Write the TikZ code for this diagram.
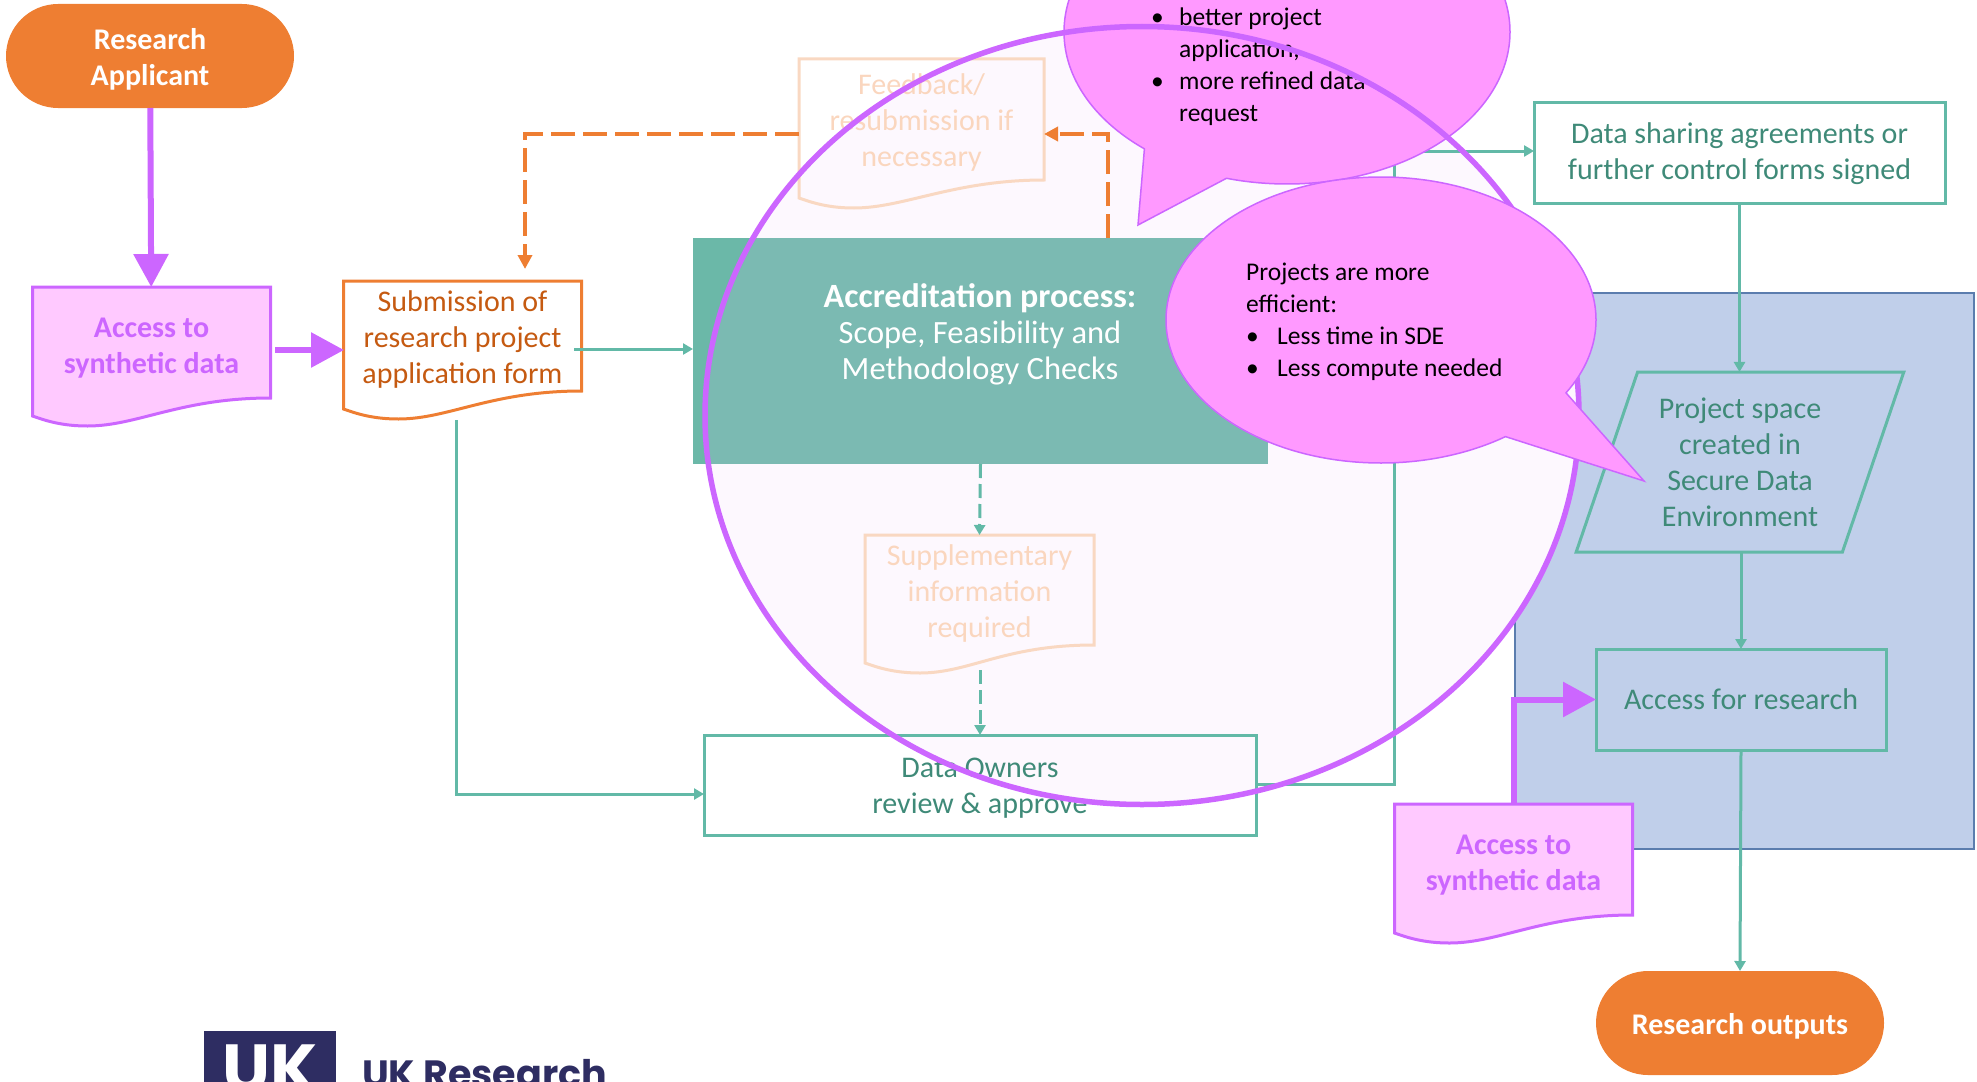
\documentclass[tikz,border=0pt]{standalone}
\usepackage{fontspec}
\setmainfont{Carlito}
\newfontfamily\logofont{Poppins}
\usetikzlibrary{arrows.meta,calc,shapes.geometric,shapes.misc,shapes.callouts}

\definecolor{tealline}{HTML}{62B9A7}
\definecolor{tealtext}{HTML}{3F8A78}
\definecolor{tealfill}{HTML}{7BBAB2}
\definecolor{tealcorner}{HTML}{6BB8A8}
\definecolor{orangefill}{HTML}{EE7E32}
\definecolor{orangetext}{HTML}{C55A11}
\definecolor{palefill}{HTML}{FDF8FE}
\definecolor{paleline}{HTML}{F9D8C2}
\definecolor{palefont}{HTML}{FAD6BE}
\definecolor{violet}{HTML}{CC66FF}
\definecolor{synthfill}{HTML}{FFC9FF}
\definecolor{bubble}{HTML}{FF99FF}
\definecolor{panelfill}{HTML}{C0CFEA}
\definecolor{panelline}{HTML}{5B7DAE}
\definecolor{logoblue}{HTML}{2E2D62}

% box with a wavy lower edge
\newcommand{\docnode}[5][3]{%
    \node[#2, draw = none, fill = none] (#3) at #4 {};
    \draw[#2] (#3.north west) -- (#3.north east) -- (#3.south east)
        .. controls ($(#3.south east) + (-90, 0)$) and ($(#3.south west) + (105, 28)$) .. ($(#3.south west) + (55, 28)$)
        .. controls ($(#3.south west) + (30, 28)$) and ($(#3.south west) + (14, 23)$) .. ($(#3.south west) + (0, 18)$) -- cycle;
    \node[#2, draw = none, fill = none] (#3text) at ($(#3) + (0, #1)$) {#5};
}
% box whose text sits a little low
\newcommand{\boxnode}[5][3]{%
    \node[#2] (#3) at #4 {};
    \node[#2, shape = rectangle, draw = none, fill = none, minimum width = 0pt, minimum height = 0pt] (#3text) at ($(#3) + (0, #1)$) {#5};
}
\newcommand{\bul}{\makebox[31pt][l]{\textbullet}}
\newcommand{\bulup}{\makebox[28pt][l]{\textbullet}}
\newcommand{\bulno}{\makebox[28pt][l]{}}

\begin{document}
\begin{tikzpicture}[%
    x = 1pt, y = -1pt,
    box/.style = {rectangle, draw = tealline, line width = 3pt, text = tealtext, align = center, inner sep = 0pt, outer sep = 0pt, font = \fontsize{30}{36}\selectfont},
    terminal/.style = {rounded rectangle, fill = orangefill, text = white, align = center, inner sep = 0pt, outer sep = 0pt, font = \fontsize{30}{36}\selectfont\bfseries},
    doc/.style = {rectangle, line width = 3pt, align = center, inner sep = 0pt, outer sep = 0pt, font = \fontsize{30}{36}\selectfont},
    synthdoc/.style = {doc, draw = violet, fill = synthfill, text = violet, minimum width = 238pt, minimum height = 111pt, font = \fontsize{30}{36}\selectfont\bfseries},
    submitdoc/.style = {doc, draw = orangefill, text = orangetext},
    palebox/.style = {doc, draw = paleline, text = palefont},
    talk/.style = {ellipse callout, draw = violet, fill = bubble, line width = 1.5pt, inner sep = 0pt, outer sep = 0pt},
    talktext/.style = {align = left, inner sep = 0pt, text = black, font = \fontsize{25.5}{32}\selectfont},
    flow/.style = {draw = tealline, line width = 3pt, -{Triangle[length = 10pt, width = 11pt]}},
    flowdash/.style = {flow, dash pattern = on 14pt off 6pt},
    back/.style = {draw = orangefill, line width = 3.5pt, dash pattern = on 24pt off 8pt, -{Triangle[length = 14pt, width = 14pt]}},
    bigflow/.style = {draw = violet, line width = 6pt, -{Triangle[length = 33pt, width = 34pt]}}]

    \useasboundingbox (0, 0) rectangle (1977, 1081);
    \clip (0, 0) rectangle (1977, 1081);

    \node[rectangle, draw = panelline, line width = 2pt, fill = panelfill, minimum width = 459pt, minimum height = 556pt] (panel) at (1744.5, 571) {};
    \node[ellipse, fill = palefill, inner sep = 0pt, minimum width = 874pt, minimum height = 778pt] (glow) at (1142, 415.5) {};

    \node[rectangle, fill = tealcorner, inner sep = 0pt, outer sep = 0pt, minimum width = 575pt, minimum height = 226pt] (accred) at (980.5, 351) {};
    \begin{scope}
        \clip (1142, 415.5) ellipse [x radius = 437, y radius = 389];
        \fill[tealfill] (accred.north west) rectangle (accred.south east);
    \end{scope}
    \node[align = center, text = white, inner sep = 0pt, font = \fontsize{32.5}{36}\selectfont] (accredtext) at (980, 334) {\fontsize{34}{36}\selectfont\textbf{Accreditation process:}\\Scope, Feasibility and\\Methodology Checks};

    \boxnode{terminal, minimum width = 288pt, minimum height = 104pt}{applicant}{(150, 56)}{Research\\Applicant}
    \boxnode{terminal, minimum width = 288pt, minimum height = 104pt}{outputs}{(1740, 1023)}{Research outputs}

    \docnode[5.5]{synthdoc}{synthleft}{(151.5, 342.5)}{Access to\\synthetic data}
    \docnode{submitdoc, minimum width = 238pt, minimum height = 110pt}{submission}{(462.5, 336)}{Submission of\\research project\\application form}
    \docnode{palebox, minimum width = 245pt, minimum height = 121pt}{feedback}{(921.5, 119.5)}{Feedback/\\resubmission if\\necessary}
    \docnode{palebox, minimum width = 229pt, minimum height = 110pt}{supplement}{(979.5, 590)}{Supplementary\\information\\required}
    \docnode[5.5]{synthdoc}{synthright}{(1513.5, 859.5)}{Access to\\synthetic data}

    \boxnode{box, minimum width = 552pt, minimum height = 100pt}{owners}{(980, 785)}{Data Owners\\review \& approve}
    \boxnode[1.5]{box, minimum width = 411pt, minimum height = 101pt}{sharing}{(1739.5, 152.5)}{Data sharing agreements or\\further control forms signed}
    \node[box, minimum width = 290pt, minimum height = 101pt] (research) at (1741, 699.5) {Access for research};
    \node[box, trapezium, trapezium left angle = 69.3, trapezium right angle = 110.7, trapezium stretches = true, minimum width = 328pt, minimum height = 180pt] (project) at (1740, 462) {Project space\\created in\\Secure Data\\Environment};

    \coordinate (backturn) at (1108, 134);
    \coordinate (subin) at (525, 269);
    \coordinate (subout) at (456, 420);
    \coordinate (ownersin) at (704, 794);
    \coordinate (ownersout) at (1256, 784);
    \coordinate (upright) at (1394, 784);
    \coordinate (sharingin) at (1534, 151);
    \coordinate (synthout) at (1514, 804);
    \coordinate (synthend) at (275, 350);
    \coordinate (subleft) at (344, 350);
    \coordinate (subright) at (574, 349);

    \draw[bigflow] (applicant) -- (synthleft);
    \draw[bigflow] (synthend) -- (subleft);
    \draw[flow] (subright) -- (accred.west |- subright);
    \draw[flow] (subout) |- (ownersin);
    \draw[flowdash] (accred.south) -- (supplement.north);
    \draw[flowdash] (980, 670) -- (owners.north);
    \draw[flow, -] (ownersout) -- (upright) -- (upright |- sharingin);
    \draw[flow] (upright |- sharingin) -- (sharingin);
    \draw[flow] (sharing.south) -- (sharing.south |- project.north);
    \draw[flow] (research.north |- project.south) -- (research.north);
    \draw[flow] (research.south) -- (outputs.north);
    \draw[bigflow] (synthout) |- (research.west);
    \draw[back] (1108, 238) -- (backturn) -- (feedback.east |- backturn);
    \draw[back] (feedback.west |- backturn) -| (subin);

    % speech bubbles, the ring runs between them
    \node[talk, minimum width = 446pt, minimum height = 304pt, callout absolute pointer = {(1138, 225)}, callout pointer arc = 24] (talkup) at (1287, 32) {};
    \node[talktext, anchor = west] (talkuptext) at (1151, 67) {\bulup better project\\\bulno application,\\\bulup more refined data\\\bulno request};
    \node[ellipse, draw = violet, line width = 5.5pt, inner sep = 0pt, minimum width = 874pt, minimum height = 778pt] (ring) at (1142, 415.5) {};
    \node[talk, minimum width = 430pt, minimum height = 286pt, callout absolute pointer = {(1644, 481)}, callout pointer arc = 24] (talkdown) at (1381, 320) {};
    \node[talktext, anchor = west] (talkdowntext) at (1246, 322) {Projects are more\\efficient:\\\bul Less time in SDE\\\bul Less compute needed};

    \node[rectangle, fill = logoblue, inner sep = 0pt, minimum width = 132pt, minimum height = 120pt, anchor = north west] (logo) at (204, 1031) {};
    \node[text = white, inner sep = 0pt, anchor = base, font = \fontsize{68}{68}\logofont\bfseries] (logouk) at (270, 1092) {UK};
    \node[text = logoblue, inner sep = 0pt, anchor = base west, font = \fontsize{38}{38}\logofont\bfseries] (logotext) at (362, 1087) {UK Research};
\end{tikzpicture}
\end{document}
